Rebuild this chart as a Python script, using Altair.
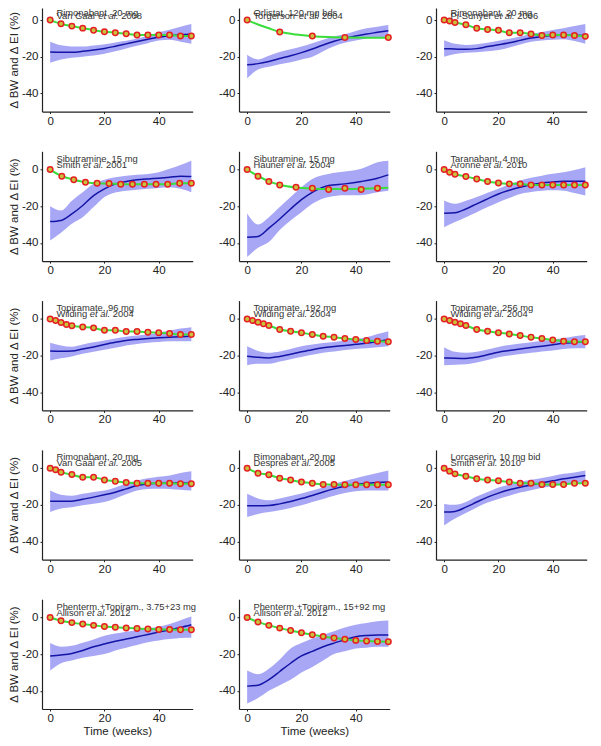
import altair as alt
import pandas as pd

# ---------------- panel labels ----------------
drugs = [
    "Rimonabant, 20 mg", "Orlistat, 120 mg bds", "Rimonabant, 20 mg",
    "Sibutramine, 15 mg", "Sibutramine, 15 mg", "Taranabant, 4 mg",
    "Topiramate, 96 mg", "Topiramate, 192 mg", "Topiramate, 256 mg",
    "Rimonabant, 20 mg", "Rimonabant, 20 mg", "Lorcaserin, 10 mg bid",
    "Phenterm.+Topiram., 3.75+23 mg", "Phenterm.+Topiram., 15+92 mg",
]
authors = ["Van Gaal", "Torgerson", "Pi-Sunyer", "Smith", "Hauner", "Aronne",
           "Wilding", "Wilding", "Wilding", "Van Gaal", "Despres", "Smith",
           "Allison", "Allison"]
years = ["2008", "2004", "2006", "2001", "2004", "2010", "2004", "2004", "2004",
         "2005", "2005", "2010", "2012", "2012"]

# ---------------- body-weight data (circles) ----------------
W4 = [0, 4, 8, 12, 16, 20, 24, 28, 32, 36, 40, 44, 48, 52]
W2 = [0, 2, 4, 8, 12, 16, 20, 24, 28, 32, 36, 40, 44, 48, 52]
WT = [0, 2, 4, 6, 8, 12, 16, 20, 24, 28, 32, 36, 40, 44, 48, 52]

bw_weeks = [
    W4,
    [0, 12, 24, 36, 52],
    W2,
    [0, 4.3, 8.7, 13, 17.3, 21.7, 26, 30.3, 34.7, 39, 43.3, 47.7, 52],
    [0, 4, 8, 12, 18, 24, 30, 36, 42, 48],
    W2,
    WT, WT, WT,
    W2, W4, W2,
    W4, W4,
]
bw_vals = [
    [0, -2, -3.3, -4.4, -5.5, -6.4, -6.9, -7.5, -8.2, -8.2, -8.2, -8.2, -8.7, -8.7],
    [0, -6.5, -8.7, -9.5, -9.5],
    [0, -0.5, -1.3, -2.5, -4.5, -5.1, -5.6, -6.9, -6.9, -7.6, -8.4, -8.2, -8.2, -8.4, -8.9],
    [0, -3.6, -5.5, -6.9, -7.5, -7.6, -8, -8, -8, -8, -8, -7.5, -7.5],
    [0, -3.6, -6.5, -8.4, -9.6, -10.2, -10.9, -10.2, -10.9, -10.2],
    [0, -1.5, -2.5, -3.8, -5.1, -6.5, -7.3, -7.8, -7.8, -8.4, -8.4, -8.4, -8.4, -8.4, -8.4],
    [0, -0.9, -2, -3.1, -3.8, -4.4, -4.9, -6.2, -6.2, -6.9, -6.9, -7.3, -7.6, -8, -8.5, -8.5],
    [0, -0.9, -1.8, -2.7, -3.6, -5.8, -6.7, -7.6, -8.5, -9.5, -10, -10.7, -11.3, -11.8, -12.2, -12.5],
    [0, -0.9, -1.8, -2.7, -3.6, -5.8, -6.7, -7.6, -8.2, -9.1, -10, -10.7, -11.5, -12.2, -12.5, -12.5],
    [0, -0.9, -2.2, -3.5, -4.9, -4.9, -6.4, -7.1, -7.8, -8.2, -8.2, -8.2, -8.2, -8.5, -8.5],
    [0, -2.7, -3.6, -5.5, -6.4, -7.6, -8.2, -8.9, -8.9, -9.1, -9.1, -9.1, -9.1, -9.1],
    [0, -1.6, -3.1, -4.4, -5.8, -6.4, -6.9, -7.6, -8.2, -8.2, -8.9, -8.9, -8.9, -8.2, -8.2],
    [0, -1.8, -2.8, -3.6, -4.3, -4.9, -5.3, -5.7, -6.0, -6.3, -6.5, -6.6, -6.7, -6.7],
    [0, -2.5, -4.3, -5.8, -7.1, -8.3, -9.4, -10.4, -11.2, -11.9, -12.5, -12.9, -13.1, -13.2],
]

# model curves (green) where they differ from the observed points
model_weeks = {
    1: [0, 4, 8, 12, 18, 24, 30, 36, 44, 52],
    4: [0, 4, 8, 12, 18, 24, 30, 36, 42, 48, 52],
}
model_vals = {
    1: [0, -2.4, -4.5, -6.4, -7.9, -8.8, -9.3, -9.5, -9.6, -9.6],
    4: [0, -3.5, -6.4, -8.3, -9.8, -10.4, -10.6, -10.6, -10.5, -10.2, -9.9],
}

# ---------------- energy-intake data (blue line + band) ----------------
ei_weeks = [W4, W4, W4, W4, [0, 4, 8, 12, 16, 20, 24, 30, 36, 42, 48, 52],
            W4, W4, W4, W4, W4, W4, W4, W4, W4]
ei_mean = [
    [-17.5, -17.6, -17.6, -17.1, -16.4, -15.5, -14.3, -13, -11.7, -10.5, -9.4, -8.5, -8.0, -7.8],
    [-24.4, -23.8, -22.6, -21.0, -19.5, -17.8, -15.8, -13.6, -11.6, -10, -8.7, -7.6, -6.7, -5.8],
    [-15.6, -15.8, -16, -15.6, -14.5, -13.5, -12.4, -11.1, -9.8, -9.0, -8.4, -8.3, -8.3, -8.4],
    [-28.4, -27.8, -24.2, -19.6, -14.2, -10.5, -7.8, -6.5, -5.6, -5.1, -4.7, -4.2, -3.6, -3.8],
    [-37, -36.5, -32, -27, -21.5, -16.4, -12.4, -8.7, -7.8, -6.5, -4.7, -2.9],
    [-23.8, -23.6, -21.5, -18.7, -16, -13.3, -11.3, -9.6, -8.3, -7.3, -6.8, -6.4, -6.3, -6.4],
    [-17.6, -17.7, -17.6, -16.5, -15.3, -14, -12.8, -11.8, -11.2, -10.7, -10.3, -10, -9.7, -9.5],
    [-20.4, -21, -21.3, -20.5, -19.3, -18, -16.8, -15.8, -15.1, -14.5, -13.9, -13.3, -12.4, -11.3],
    [-21.3, -21.5, -21.6, -20.9, -19.6, -18.2, -17.3, -16.4, -15.6, -14.9, -14.1, -13.3, -12.9, -12.5],
    [-18, -18, -18, -17, -15.8, -14.5, -13.1, -11.3, -9.5, -8.6, -8.2, -8.1, -8.1, -8.2],
    [-20.5, -20.5, -20.4, -19.5, -18.2, -16.6, -14.9, -13, -11.3, -9.9, -8.9, -8.3, -7.8, -7.6],
    [-24, -23.6, -21.3, -18.5, -15.8, -13.6, -11.8, -10.4, -9.2, -8, -6.9, -5.8, -4.9, -4],
    [-21, -20.5, -19.7, -18, -16, -14.5, -13, -11.8, -10.5, -9.3, -8, -6.8, -5.5, -4.0],
    [-37.5, -37, -34, -29.5, -25, -21, -18.5, -16, -14, -12.2, -10.5, -9.8, -9.5, -9.5],
]
ei_hi = [
    [-11.8, -13.8, -14.4, -14.5, -13.9, -13.2, -12.2, -11.3, -10, -8.5, -6.6, -5.3, -3.6, -2.2],
    [-19, -21.5, -19.5, -17.5, -16, -14.5, -12.7, -10.8, -9, -7.8, -6.0, -4.5, -3.6, -2.7],
    [-11, -13, -13.6, -13.2, -12.4, -11.3, -10.2, -9, -7.6, -6.5, -5.4, -4.5, -3.3, -2.2],
    [-20, -22.4, -17, -12.4, -7.8, -5.5, -4.2, -3.3, -2.8, -2.4, -1.5, 0.4, 2.5, 4.9],
    [-24, -30, -26, -20.5, -15, -9.6, -5.1, -2.4, -1.1, 0.4, 4, 4.9],
    [-16.9, -18.7, -17, -15, -12.7, -10.5, -8.2, -6, -4.5, -3.3, -2.3, -1.5, -0.2, 1.3],
    [-13, -14.5, -15.2, -14, -12.8, -11.8, -10.7, -9.8, -9.1, -8.5, -7.5, -6.4, -5.3, -4.5],
    [-15, -17.5, -18.5, -17.8, -16.5, -15, -14, -13.2, -12.6, -11.8, -11, -10, -8.3, -6.7],
    [-15.5, -18, -18.5, -18, -16.7, -15.3, -14.3, -13.5, -12.8, -12, -11.2, -10.5, -9.5, -8.8],
    [-12.2, -14.5, -15, -14, -13, -12.2, -10.5, -8.5, -6.7, -5.5, -4.7, -4, -2.6, -1.6],
    [-14, -16.5, -17.5, -16.5, -15.2, -13.8, -12.2, -10.5, -8.5, -7, -5.5, -4, -2.6, -1.3],
    [-19.5, -20, -18.5, -15.5, -13, -10.5, -9, -7.5, -6.3, -5.3, -4.2, -3.1, -2.3, -1.3],
    [-14, -16, -15.5, -13.8, -12, -10, -8.8, -7.8, -6.8, -5.8, -5, -3.5, -1.5, 0.5],
    [-29, -31, -28, -23, -17, -14, -11.5, -9.5, -7.5, -5.5, -4, -3, -2, -1.6],
]
ei_lo = [
    [-23.3, -21.5, -20.6, -20, -19.4, -18.4, -17, -15.5, -14, -12.6, -11.2, -10.8, -11.8, -13],
    [-31.8, -27, -25.5, -24.2, -23, -21.5, -20, -17, -14.3, -12.4, -11.2, -10, -9.5, -9.1],
    [-20, -18.5, -17.8, -17.6, -17, -16.4, -15, -13.3, -11.8, -11.2, -10.8, -10.5, -11.5, -13],
    [-38.7, -34.5, -29.6, -26, -20.5, -15, -12.5, -11.5, -11, -10.5, -10, -9.6, -10.5, -12.4],
    [-47.8, -42.7, -39.6, -33, -27.8, -23.3, -18.7, -15, -14, -14, -12.4, -11.5],
    [-31.5, -28.7, -26, -23.3, -20.5, -17.8, -15.5, -13.3, -12.3, -11.5, -11.3, -11.5, -12.8, -14.2],
    [-22.7, -21.5, -20.5, -19, -18, -16.8, -15.8, -14.5, -13.7, -13, -12.6, -12.2, -12.2, -12.2],
    [-25.3, -24.5, -24.5, -23.3, -22, -20.8, -19.6, -18.5, -17.8, -17, -16.4, -16, -15.5, -15],
    [-25.3, -25, -24.8, -23.8, -22.5, -21, -20, -19.2, -18.5, -17.8, -17.2, -16.5, -16, -16],
    [-24, -22, -21.3, -20.2, -19.4, -18.5, -16.5, -14.3, -12.2, -11.3, -11.2, -11.3, -11.8, -12.2],
    [-26.7, -25, -24, -23, -21.7, -20.3, -18.5, -16.8, -15, -13.5, -12.6, -12.2, -12.2, -12.2],
    [-31.3, -27.5, -24.5, -21.5, -18.8, -16.8, -15, -13.3, -12.0, -10.7, -9.8, -8.9, -8.2, -7.6],
    [-29, -25, -23.5, -22, -21, -20, -18, -16.5, -15, -13.5, -12.5, -11.8, -11.2, -11],
    [-47, -44, -40, -37, -34, -30, -27, -23.5, -20, -18.5, -17, -16.5, -16, -16],
]

# ---------------- styling ----------------
FONT = "Liberation Sans"
TXT_FS = 9.4
BLUE = "#1414a6"
BAND = "#a7a7f6"
GREEN = "#3ade3a"
RED = "#e51f24"
OLIVE = "#c9c33c"
PANEL_W = 150.7
PX_PER_UNIT = 1.83
Y_TOP_FIRST_ROW = 6.6   # first row is cut at the top, as in the reference
Y_TOP = 10

ARIAL = {' ': 278, 'a': 556, 'b': 556, 'c': 500, 'd': 556, 'e': 556, 'f': 278, 'g': 556,
         'h': 556, 'i': 222, 'j': 222, 'k': 500, 'l': 222, 'm': 833, 'n': 556, 'o': 556,
         'p': 556, 'q': 556, 'r': 333, 's': 500, 't': 278, 'u': 556, 'v': 500, 'w': 722,
         'x': 500, 'y': 500, 'z': 500, 'A': 667, 'D': 722, 'G': 778, 'H': 722, 'P': 667,
         'S': 667, 'T': 611, 'V': 667, 'W': 944, '.': 278, ',': 278, '-': 333, '+': 584}


def text_width(s, fs):
    return sum(ARIAL.get(c, 556) for c in s) * fs / 1000.0


xscale = alt.Scale(domain=[-3, 52.5], nice=False, zero=False)
LABEL_EXPR = ("datum.value % 20 == 0 ? (datum.value < 0 ? '-' + abs(datum.value) "
              ": '' + datum.value) : ''")


def make_panel(i):
    col = i % 3
    row = i // 3
    ytop = Y_TOP_FIRST_ROW if row == 0 else Y_TOP
    yscale = alt.Scale(domain=[-50, ytop], nice=False, zero=False)
    height = (ytop + 50) * PX_PER_UNIT

    xaxis_kwargs = dict(values=[0, 10, 20, 30, 40, 50], labelExpr=LABEL_EXPR)
    if i in (12, 13):
        xaxis = alt.Axis(title="Time (weeks)", **xaxis_kwargs)
    else:
        xaxis = alt.Axis(title=None, **xaxis_kwargs)
    yaxis_kwargs = dict(values=[-40, -30, -20, -10, 0], labelExpr=LABEL_EXPR)
    if col == 0:
        yaxis = alt.Axis(title="\u0394 BW and \u0394 EI (%)", **yaxis_kwargs)
    else:
        yaxis = alt.Axis(title=None, **yaxis_kwargs)

    ei = pd.DataFrame({"week": ei_weeks[i], "mean": ei_mean[i],
                       "lo": ei_lo[i], "hi": ei_hi[i]})
    bw = pd.DataFrame({"week": bw_weeks[i], "bw": bw_vals[i]})
    if i in model_weeks:
        mdl = pd.DataFrame({"week": model_weeks[i], "bw": model_vals[i]})
    else:
        mdl = bw

    band = alt.Chart(ei).mark_area(color=BAND, opacity=1, interpolate="monotone").encode(
        x=alt.X("week:Q", scale=xscale, axis=xaxis),
        y=alt.Y("lo:Q", scale=yscale, axis=yaxis),
        y2="hi:Q",
    )
    line = alt.Chart(ei).mark_line(color=BLUE, strokeWidth=1.5, interpolate="monotone").encode(
        x="week:Q", y="mean:Q")
    green = alt.Chart(mdl).mark_line(color=GREEN, strokeWidth=2, interpolate="monotone").encode(
        x="week:Q", y="bw:Q")
    pts = alt.Chart(bw).mark_point(shape="circle", filled=False, fill=OLIVE, fillOpacity=1,
                                   stroke=RED, strokeWidth=1.5, size=30, opacity=1).encode(
        x="week:Q", y="bw:Q")

    y1, y2 = (2.5, 0.35) if row == 0 else (4.3, 1.0)
    x0 = 2.3
    dummy = pd.DataFrame({"a": [0]})
    tstyle = dict(align="left", baseline="alphabetic", fontSize=TXT_FS, font=FONT,
                  color="#333333")
    if row == 0:
        tstyle["clip"] = True
    t1 = alt.Chart(dummy).mark_text(text=drugs[i], **tstyle).encode(
        x=alt.X(datum=x0), y=alt.Y(datum=y1))
    w1 = text_width(authors[i] + " ", TXT_FS)
    w2 = text_width("et al. ", TXT_FS)
    t2 = alt.Chart(dummy).mark_text(text=authors[i], **tstyle).encode(
        x=alt.X(datum=x0), y=alt.Y(datum=y2))
    t3 = alt.Chart(dummy).mark_text(text="et al.", fontStyle="italic", dx=w1, **tstyle).encode(
        x=alt.X(datum=x0), y=alt.Y(datum=y2))
    t4 = alt.Chart(dummy).mark_text(text=years[i], dx=w1 + w2, **tstyle).encode(
        x=alt.X(datum=x0), y=alt.Y(datum=y2))

    return alt.layer(band, line, green, pts, t1, t2, t3, t4).properties(
        width=PANEL_W, height=height)


panels = [make_panel(i) for i in range(len(drugs))]

chart = alt.concat(*panels, columns=3, spacing={"row": 39.3, "column": 46},
                   bounds="flush", align="each").properties(
    padding={"left": 0, "top": 0, "right": 0, "bottom": 0}
).configure_view(stroke=None).configure_axis(
    grid=False,
    domainColor="#222222",
    domainWidth=1.2,
    tickColor="#222222",
    tickSize=2,
    labelFont=FONT,
    labelFontSize=11.5,
    labelColor="#222222",
    labelPadding=1.5,
    titleFont=FONT,
    titleFontSize=11.5,
    titleFontWeight="normal",
    titleColor="#222222",
    titlePadding=1,
).configure_axisLeft(
    titleFontSize=11.5,
    titlePadding=2,
    labelPadding=2,
)

chart.save("out.html", embed_options={"renderer": "svg", "actions": False})
